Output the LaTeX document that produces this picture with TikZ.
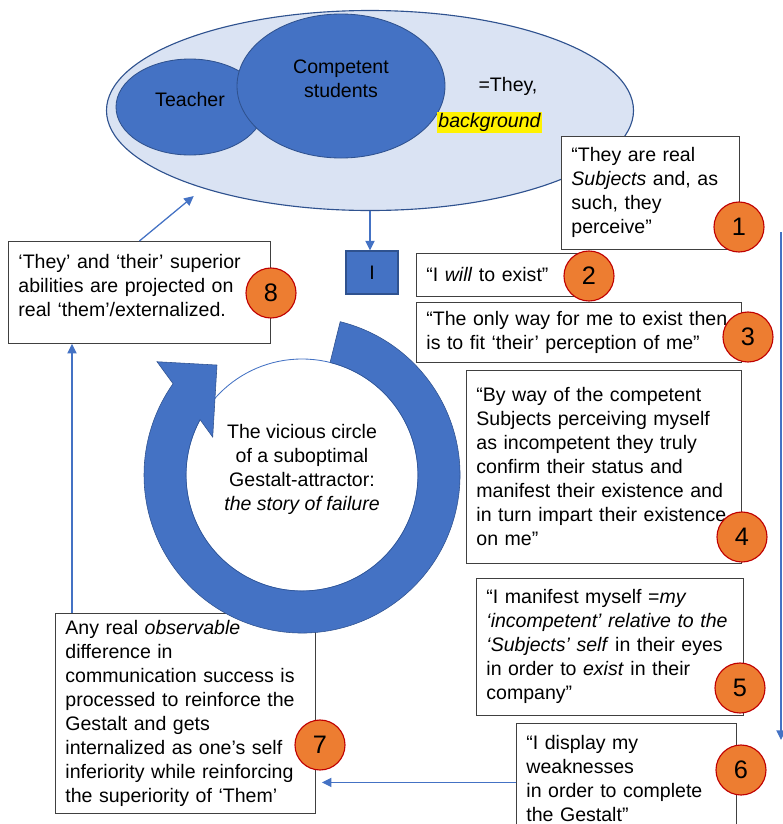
\documentclass[tikz,border=0pt]{standalone}
\usepackage{fontspec}
\setmainfont{Liberation Sans}
\usetikzlibrary{shapes.geometric, arrows.meta, positioning, calc}
\definecolor{accent}{HTML}{4472C4}
\definecolor{accentdark}{HTML}{2F528F}
\definecolor{pale}{HTML}{DAE3F3}
\definecolor{badgefill}{HTML}{ED7D31}
\definecolor{badgeline}{HTML}{C00000}
\newcommand{\bodyfont}{\fontsize{13.9}{17.07}\selectfont}

\begin{document}
\begin{tikzpicture}[
    arr/.style={-{Triangle[length=2.4mm, width=2.3mm]}, line width=0.9pt, draw=accent, fill=accent},
    box/.style={rectangle, draw=black!75, line width=0.6pt, fill=white, anchor=north west, align=left, inner xsep=0.25cm, inner ysep=0pt, font=\bodyfont},
    badge/.style={circle, draw=badgeline, line width=0.8pt, fill=badgefill, minimum size=1.25cm, inner sep=0pt, font=\fontsize{18}{20}\selectfont},
    blob/.style={ellipse, draw=accentdark, line width=0.6pt, fill=accent, font=\bodyfont},
]
\useasboundingbox (0,0) rectangle (19.575,-20.6);

% "They" group
\node[ellipse, draw=accentdark, line width=0.8pt, fill=pale, minimum width=13.175cm, minimum height=5cm] (they) at (9.25,-2.7625) {};
\node[blob, minimum width=3.7cm, minimum height=2.4cm, text depth=0.4cm] (teacher) at (4.75,-2.675) {Teacher};
\node[blob, minimum width=5.2cm, minimum height=3.6cm, align=center, text depth=0.35cm] (peers) at (8.525,-2.15) {Competent\\students};
\node[font=\bodyfont] (them) at (12.7,-2.15) {=They,};
\node[fill=yellow, inner sep=1pt, font=\bodyfont\itshape] (bg) at (12.2375,-3.0625) {background};

% I
\node[rectangle, draw=accentdark, fill=accent, line width=0.8pt, minimum width=1.3cm, minimum height=1.075cm, font=\bodyfont] (me) at (9.3,-6.8125) {I};
\draw[arr] (they.south) -- (they.south |- me.north);

% Steps 1--6
\node[box, text width=3.95cm, minimum height=2.825cm] (b1) at (14.025,-3.4) {“They are real\\\textit{Subjects} and, as\\such, they\\perceive”};
\node[box, text width=3.85cm, minimum height=1.075cm] (b2) at (10.4,-6.325) {“I \textit{will} to exist”};
\node[box, text width=7.625cm, minimum height=1.5cm] (b3) at (10.4,-7.55) {“The only way for me to exist then\\is to fit ‘their’ perception of me”};
\node[box, text width=6.375cm, minimum height=4.825cm] (b4) at (11.65,-9.25) {“By way of the competent\\Subjects perceiving myself\\as incompetent they truly\\confirm their status and\\manifest their existence and\\in turn impart their existence\\on me”};
\node[box, text width=6.175cm, minimum height=3.425cm] (b5) at (11.9,-14.45) {“I manifest myself =\textit{my}\\\textit{‘incompetent’ relative to the}\\\textit{‘Subjects’ self} in their eyes\\in order to \textit{exist} in their\\company”};
\node[box, text width=5.0cm, minimum height=2.75cm] (b6) at (12.9,-18.075) {“I display my\\weaknesses\\in order to complete\\the Gestalt”};

% Steps 7--8
\node[box, text width=6.0cm, minimum height=5cm] (b7) at (1.375,-15.325) {Any real \textit{observable}\\difference in\\communication success is\\processed to reinforce the\\Gestalt and gets\\internalized as one’s self\\inferiority while reinforcing\\the superiority of ‘Them’};
\node[box, text width=6.05cm, minimum height=2.55cm, text depth=1.55cm] (b8) at (0.2,-6.025) {‘They’ and ‘their’ superior\\abilities are projected on\\real ‘them’/externalized.};

% Connectors
\coordinate (rtop) at (19.525,-5.8);
\coordinate (rbot) at (19.525,-18.5);
\draw[arr] (rtop) -- (rbot);
\coordinate (lo) at ([yshift=-0.1cm]b6.west);
\draw[arr, shorten >=0.15cm] (lo) -- (lo -| b7.east);
\coordinate (up) at ([xshift=0.425cm]b7.north west);
\draw[arr] (up) -- (up |- b8.south);
\draw[arr, shorten >=0.3cm] (b8.north) -- (they.205);

% Vicious circle
\node[circle, draw=accent, line width=0.6pt, fill=white, minimum size=5.8cm, align=center, font=\bodyfont, text depth=0.4cm] (story) at (7.55,-11.875) {The vicious circle\\of a suboptimal\\Gestalt-attractor:\\\textit{the story of failure}};
\filldraw[fill=accent, draw=accentdark, line width=0.4pt, shift={(story.center)}]
    (76:3.95) arc[start angle=76, end angle=-215.3, radius=3.95]
    -- (142:4.6) -- (127.7:3.475) -- (157:2.425) -- (151.5:2.9)
    arc[start angle=-208.5, end angle=76, radius=2.9] -- cycle;

% Badges
\node[badge] (n1) at (18.475,-5.675) {1};
\node[badge] (n2) at (14.725,-6.9) {2};
\node[badge] (n3) at (18.7,-8.425) {3};
\node[badge] (n4) at (18.55,-13.425) {4};
\node[badge] (n5) at (18.5,-17.2) {5};
\node[badge] (n6) at (18.525,-19.25) {6};
\node[badge] (n7) at (8.0,-18.625) {7};
\node[badge] (n8) at (6.775,-7.325) {8};

\end{tikzpicture}
\end{document}
